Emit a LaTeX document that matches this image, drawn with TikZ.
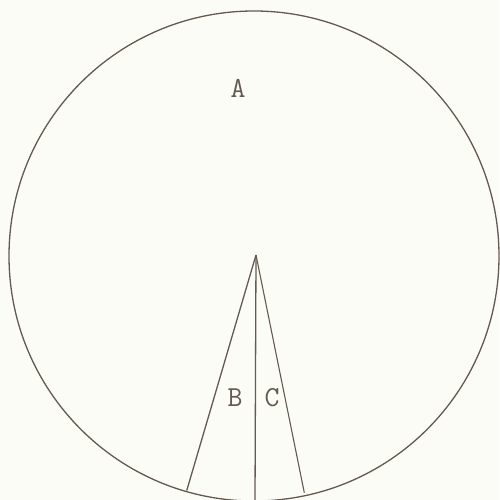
\documentclass[tikz,border=0pt]{standalone}
\usepackage{fontspec}
\usepackage{tikz}
\usetikzlibrary{positioning,calc}
\definecolor{encre}{RGB}{100,90,80}
\definecolor{papier}{RGB}{252,252,247}

\begin{document}
\begin{tikzpicture}[x=1pt,y=-1pt,
        trait/.style={draw=encre, line width=1.3pt},
        lettre/.style={text=encre, font=\ttfamily\fontsize{29}{34}\selectfont, inner sep=0pt}]
        % Fond et cadre
        \fill[papier] (0,0) rectangle (499,500);
        \useasboundingbox (0,0) rectangle (499,500);
        
        % Cercle
        \coordinate (O) at (254,256);
        \draw[trait] (O) circle (245);
        
        % Sommet et secteurs
        \coordinate (S) at (256,255);
        \coordinate (P1) at ($(O)+(106:244)$);
        \coordinate (P2) at (255,501);
        \coordinate (P3) at ($(O)+(78:242)$);
        \draw[trait] (S) -- (P1);
        \draw[trait] (S) -- (P2);
        \draw[trait, line width=1.1pt] (S) -- (P3);
        
        % Lettres
        \node[lettre] (A) at (238,88) {A};
        \node[lettre] (B) at (235,398) {B};
        \node[lettre] (C) at (272,398) {C};
    \end{tikzpicture}
\end{document}
